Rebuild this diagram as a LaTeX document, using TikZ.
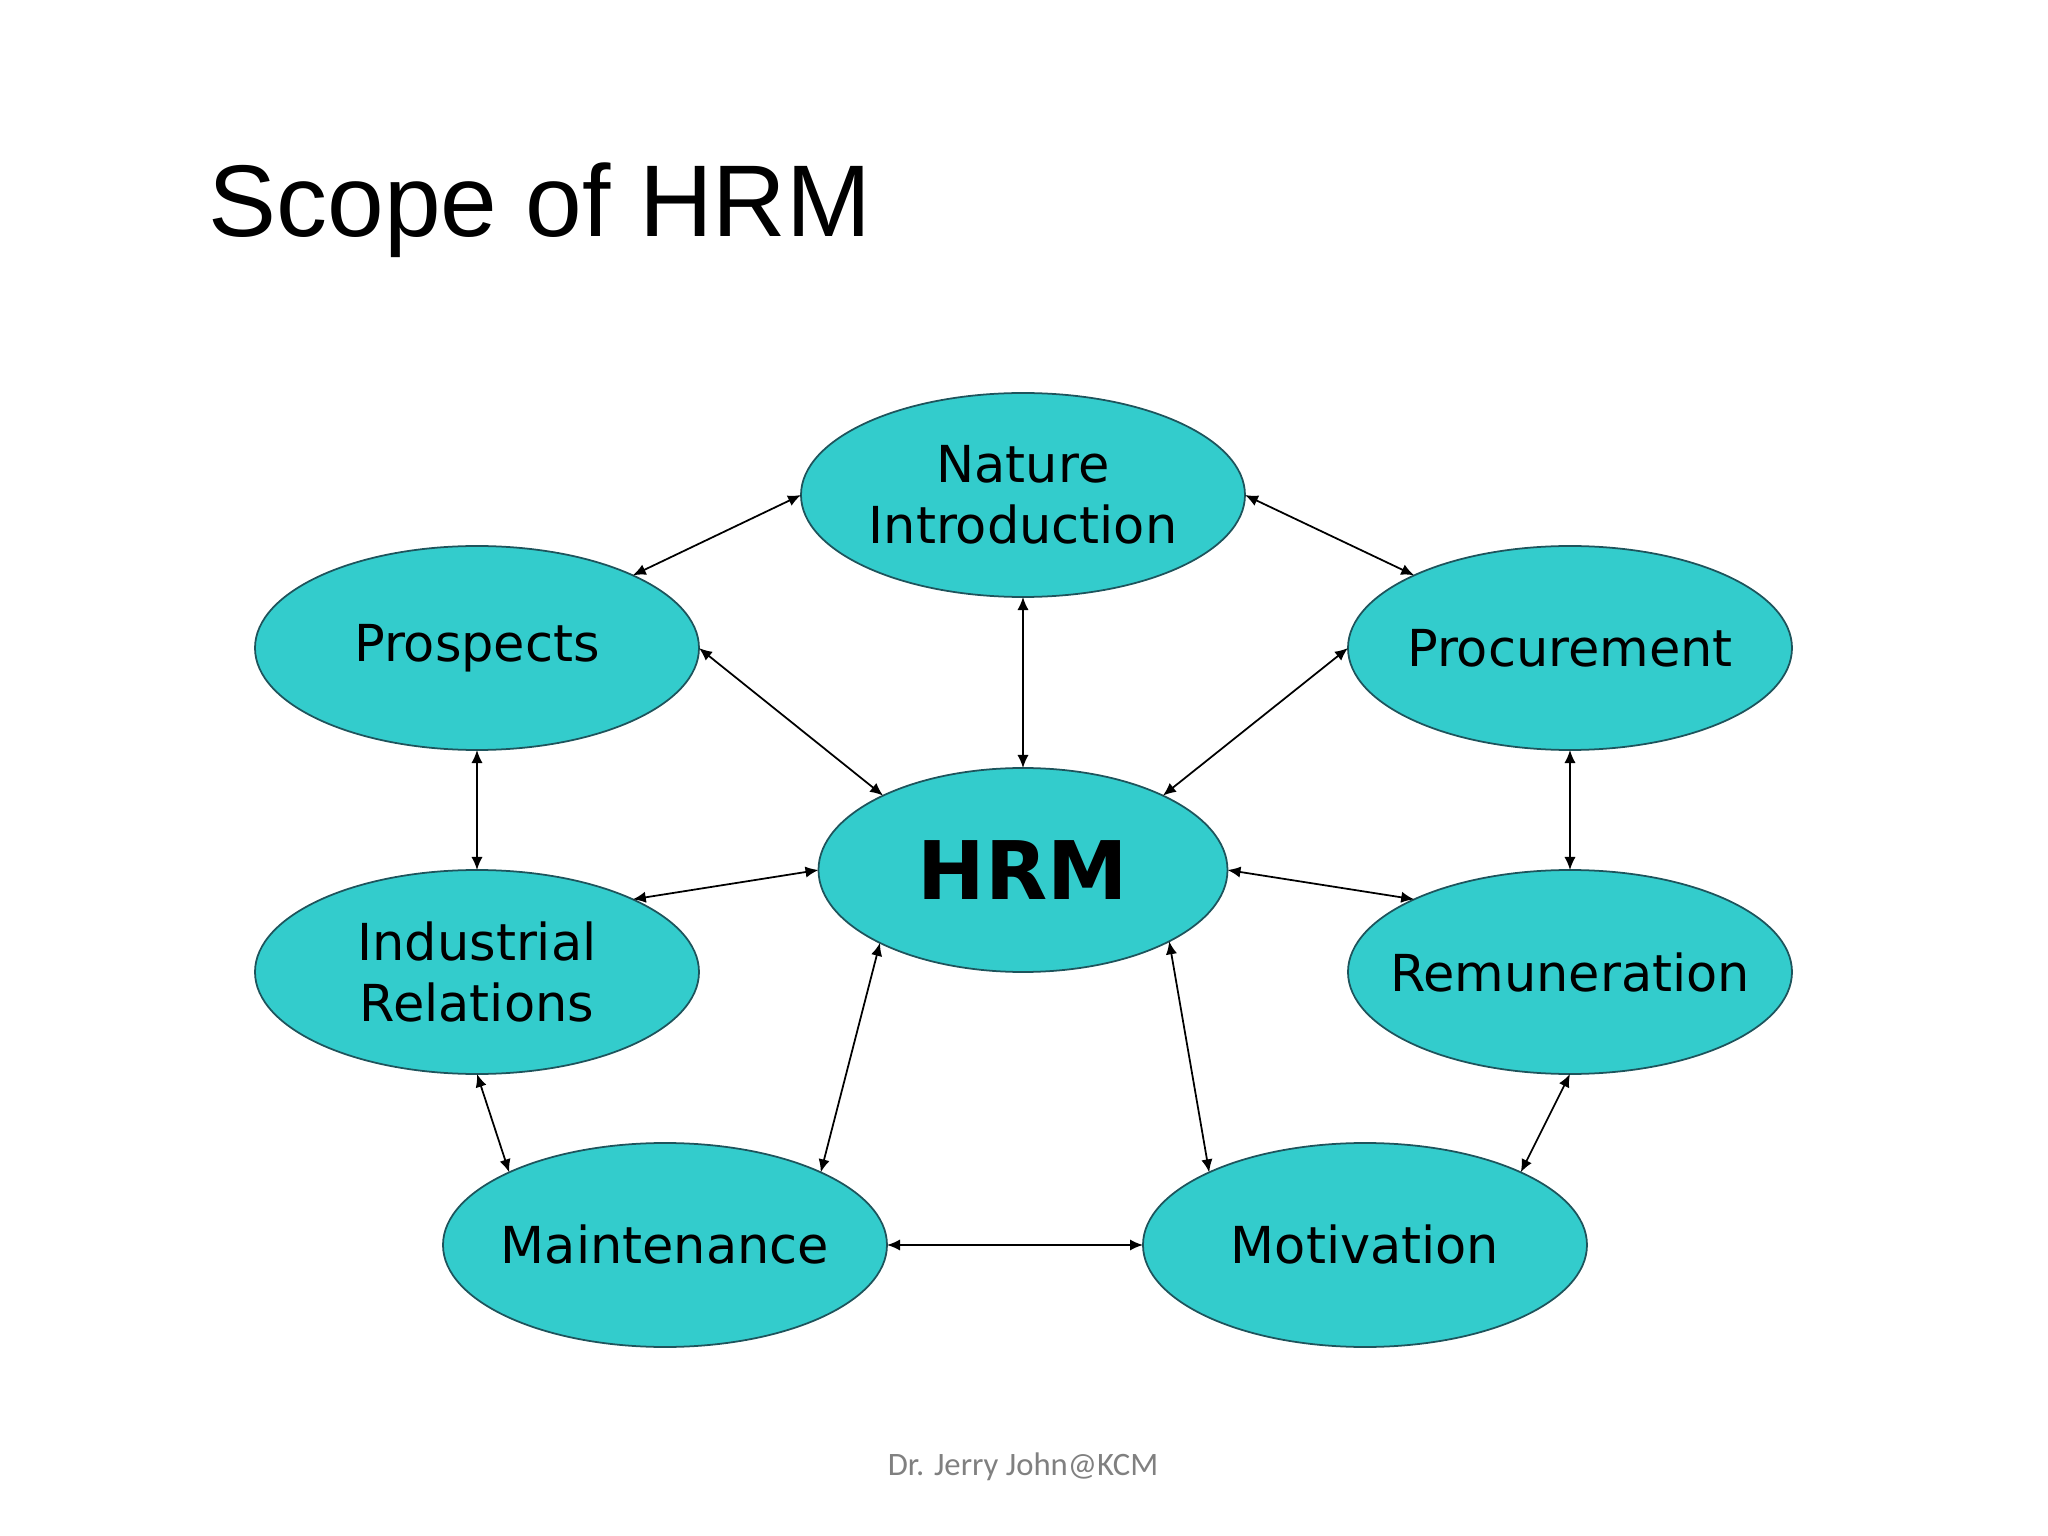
\documentclass[tikz,border=0pt]{standalone}
\usepackage{fontspec}
\setmainfont{DejaVu Sans}
\newfontfamily\titlefont{Liberation Sans}
\newfontfamily\footfont{Carlito}
\usepackage{tikz}
\usetikzlibrary{shapes.geometric, arrows.meta, positioning}
\usepackage{xcolor}
\definecolor{teal}{RGB}{51,204,204}
\definecolor{rim}{RGB}{30,84,92}
\definecolor{footgray}{RGB}{128,128,128}
\tikzstyle{topic} = [ellipse, minimum width=4.44cm, minimum height=2.04cm, inner xsep=-0.6cm, inner ysep=0pt, outer sep=0pt, align=center, draw=rim, line width=0.5pt, fill=teal, font=\fontsize{14.5}{17.4}\selectfont]
\tikzstyle{hub} = [topic, minimum width=4.09cm, font=\fontsize{23}{27}\selectfont\bfseries]
\tikzstyle{link} = [<->, >={Latex[length=3.7pt,width=3.2pt]}, line width=0.5pt]

\begin{document}
\begin{tikzpicture}[node distance=3.75cm]
\useasboundingbox (0,0) rectangle (20.48,-15.36);

% Title
\node (title) [anchor=base west, inner sep=0pt, font=\titlefont\fontsize{29}{34}\selectfont] at (2.08,-2.37) {Scope of HRM};

% Centre
\node (hrm) [hub] at (10.23,-8.70) {HRM};

% Upper ring
\node (nature) [topic, above of=hrm] {Nature\\Introduction};
\node (pros) [topic, left of=hrm, xshift=-1.71cm, yshift=2.22cm] {Prospects};
\node (proc) [topic, right of=hrm, xshift=1.72cm, yshift=2.22cm] {Procurement};

% Lower ring
\node (ind) [topic, below of=pros, yshift=0.51cm] {Industrial\\Relations};
\node (rem) [topic, below of=proc, yshift=0.51cm] {Remuneration};
\node (maint) [topic, below of=hrm, xshift=-3.58cm] {Maintenance};
\node (motiv) [topic, below of=hrm, xshift=3.42cm] {Motivation};

% Footer
\node (foot) [anchor=base, inner sep=0pt, text=footgray, font=\footfont\fontsize{9.3}{11}\selectfont] at (10.23,-14.75) {Dr. Jerry John@KCM};

% Arrows
\draw [link] (nature.180) -- (pros.25);
\draw [link] (nature.0) -- (proc.155);
\draw [link] (nature.south) -- (hrm.north);
\draw [link] (pros.0) -- (hrm.152);
\draw [link] (proc.180) -- (hrm.28);
\draw [link] (pros.south) -- (ind.north);
\draw [link] (proc.south) -- (rem.north);
\draw [link] (ind.25) -- (hrm.180);
\draw [link] (rem.155) -- (hrm.0);
\draw [link] (ind.south) -- (maint.155);
\draw [link] (rem.south) -- (motiv.25);
\draw [link] (hrm.207) -- (maint.25);
\draw [link] (hrm.334) -- (motiv.155);
\draw [link] (maint.east) -- (motiv.west);

\end{tikzpicture}
\end{document}
